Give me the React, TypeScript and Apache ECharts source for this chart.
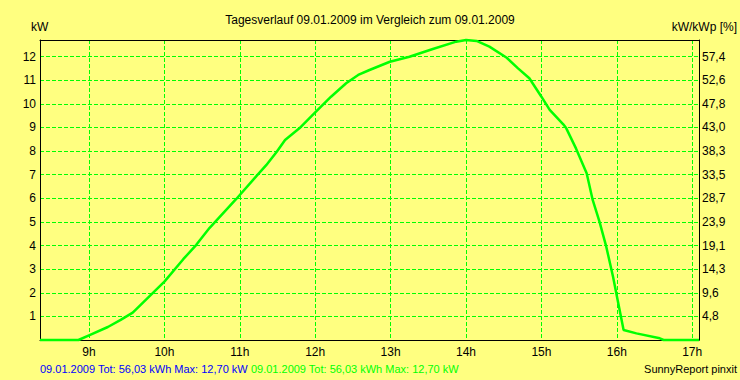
import React, { useEffect, useRef } from "react";
import * as echarts from "echarts";

const times = [8.35, 8.86, 9.0, 9.25, 9.42, 9.58, 10.0, 10.25, 10.42, 10.6, 10.95, 11.22, 11.35, 11.49, 11.6, 11.79, 11.99, 12.21, 12.41, 12.57, 12.72, 12.99, 13.25, 13.56, 13.87, 14.0, 14.14, 14.31, 14.54, 14.69, 14.84, 15.0, 15.11, 15.29, 15.33, 15.46, 15.6, 15.68, 15.77, 15.86, 15.95, 16.02, 16.09, 16.26, 16.57, 16.62, 17.09];
const power = [0, 0, 0.2, 0.55, 0.85, 1.16, 2.47, 3.42, 4.02, 4.75, 5.96, 6.94, 7.4, 7.97, 8.47, 8.96, 9.6, 10.3, 10.87, 11.22, 11.43, 11.78, 11.99, 12.32, 12.63, 12.7, 12.66, 12.42, 11.95, 11.5, 11.08, 10.3, 9.74, 9.13, 8.96, 8.1, 7.06, 5.93, 5.01, 3.95, 2.68, 1.55, 0.42, 0.28, 0.07, 0, 0];
const hourTicks = [9, 10, 11, 12, 13, 14, 15, 16, 17];
const kwTicks = [1, 2, 3, 4, 5, 6, 7, 8, 9, 10, 11, 12];
const pctLabels = ["4,8", "9,6", "14,3", "19,1", "23,9", "28,7", "33,5", "38,3", "43,0", "47,8", "52,6", "57,4"];

const title = "Tagesverlauf 09.01.2009 im Vergleich zum 09.01.2009";
const legendText = "09.01.2009 Tot: 56,03 kWh Max: 12,70 kW";
const credit = "SunnyReport pinxit";

const FONT = "'Liberation Sans', Arial, sans-serif";
const GREEN = "#00ff00";
const BG = "#ffff80";

export default function App() {
  const ref = useRef<HTMLDivElement>(null);
  useEffect(() => {
    if (!ref.current) return;
    const chart = echarts.init(ref.current, undefined, { renderer: "svg" });
    const grid = { left: 40, top: 40, width: 659, height: 300 };
    const gridLine = { show: true, lineStyle: { color: GREEN, type: [4, 2] as any, width: 1 } };
    chart.setOption({
      animation: false,
      backgroundColor: BG,
      textStyle: { fontFamily: FONT },
      grid: { ...grid, show: true, backgroundColor: BG, borderWidth: 0 },
      xAxis: [
        {
          type: "value",
          min: 8.35,
          max: 17.09,
          axisLine: { show: true, onZero: false, lineStyle: { color: "#000", width: 1 } },
          axisTick: { show: false, customValues: hourTicks },
          axisLabel: { customValues: hourTicks, formatter: (v: number) => `${v}h`, color: "#000", fontSize: 12, fontFamily: FONT, margin: 6 },
          splitLine: gridLine,
        },
        {
          type: "value",
          position: "top",
          min: 8.35,
          max: 17.09,
          axisLine: { show: true, onZero: false, lineStyle: { color: "#000", width: 1 } },
          axisTick: { show: false },
          axisLabel: { show: false },
          splitLine: { show: false },
        },
      ],
      yAxis: [
        {
          type: "value",
          min: 0,
          max: 12.7,
          axisLine: { show: true, onZero: false, lineStyle: { color: "#000", width: 1 } },
          axisTick: { show: false, customValues: kwTicks },
          axisLabel: { customValues: kwTicks, color: "#000", fontSize: 12, fontFamily: FONT, margin: 4 },
          splitLine: gridLine,
        },
        {
          type: "value",
          position: "right",
          min: 0,
          max: 12.7,
          axisLine: { show: true, onZero: false, lineStyle: { color: "#000", width: 1 } },
          axisTick: { show: false, customValues: kwTicks },
          axisLabel: {
            customValues: kwTicks,
            color: "#000",
            fontSize: 12,
            fontFamily: FONT,
            margin: 3,
            formatter: (v: number) => pctLabels[Math.round(v) - 1] ?? "",
          },
          splitLine: { show: false },
        },
      ],
      series: [
        {
          type: "line",
          xAxisIndex: 0,
          yAxisIndex: 0,
          data: times.map((t, i) => [t, power[i]]),
          showSymbol: false,
          lineStyle: { color: GREEN, width: 2.5 },
          clip: false,
          z: 5,
        },
      ],
      graphic: [
        { type: "text", x: 370, y: 20, style: { text: title, font: `12px ${FONT}`, fill: "#000", align: "center", verticalAlign: "middle" } },
        { type: "text", x: 31, y: 27, style: { text: "kW", font: `12px ${FONT}`, fill: "#000", align: "left", verticalAlign: "middle" } },
        { type: "text", x: 737, y: 27, style: { text: "kW/kWp [%]", font: `12px ${FONT}`, fill: "#000", align: "right", verticalAlign: "middle" } },
        {
          type: "text",
          x: 40,
          y: 369,
          style: {
            text: `{b|${legendText}} {g|${legendText}}`,
            verticalAlign: "middle",
            align: "left",
            font: `11px ${FONT}`,
            rich: {
              b: { fill: "#0000ff", font: `11px ${FONT}` },
              g: { fill: GREEN, font: `11px ${FONT}` },
            },
          },
        },
        { type: "text", x: 737, y: 369, style: { text: credit, font: `11px ${FONT}`, fill: "#000", align: "right", verticalAlign: "middle" } },
      ],
    });
    return () => chart.dispose();
  }, []);
  return <div ref={ref} style={{ position: "fixed", left: 0, top: 0, width: 740, height: 380 }} />;
}
